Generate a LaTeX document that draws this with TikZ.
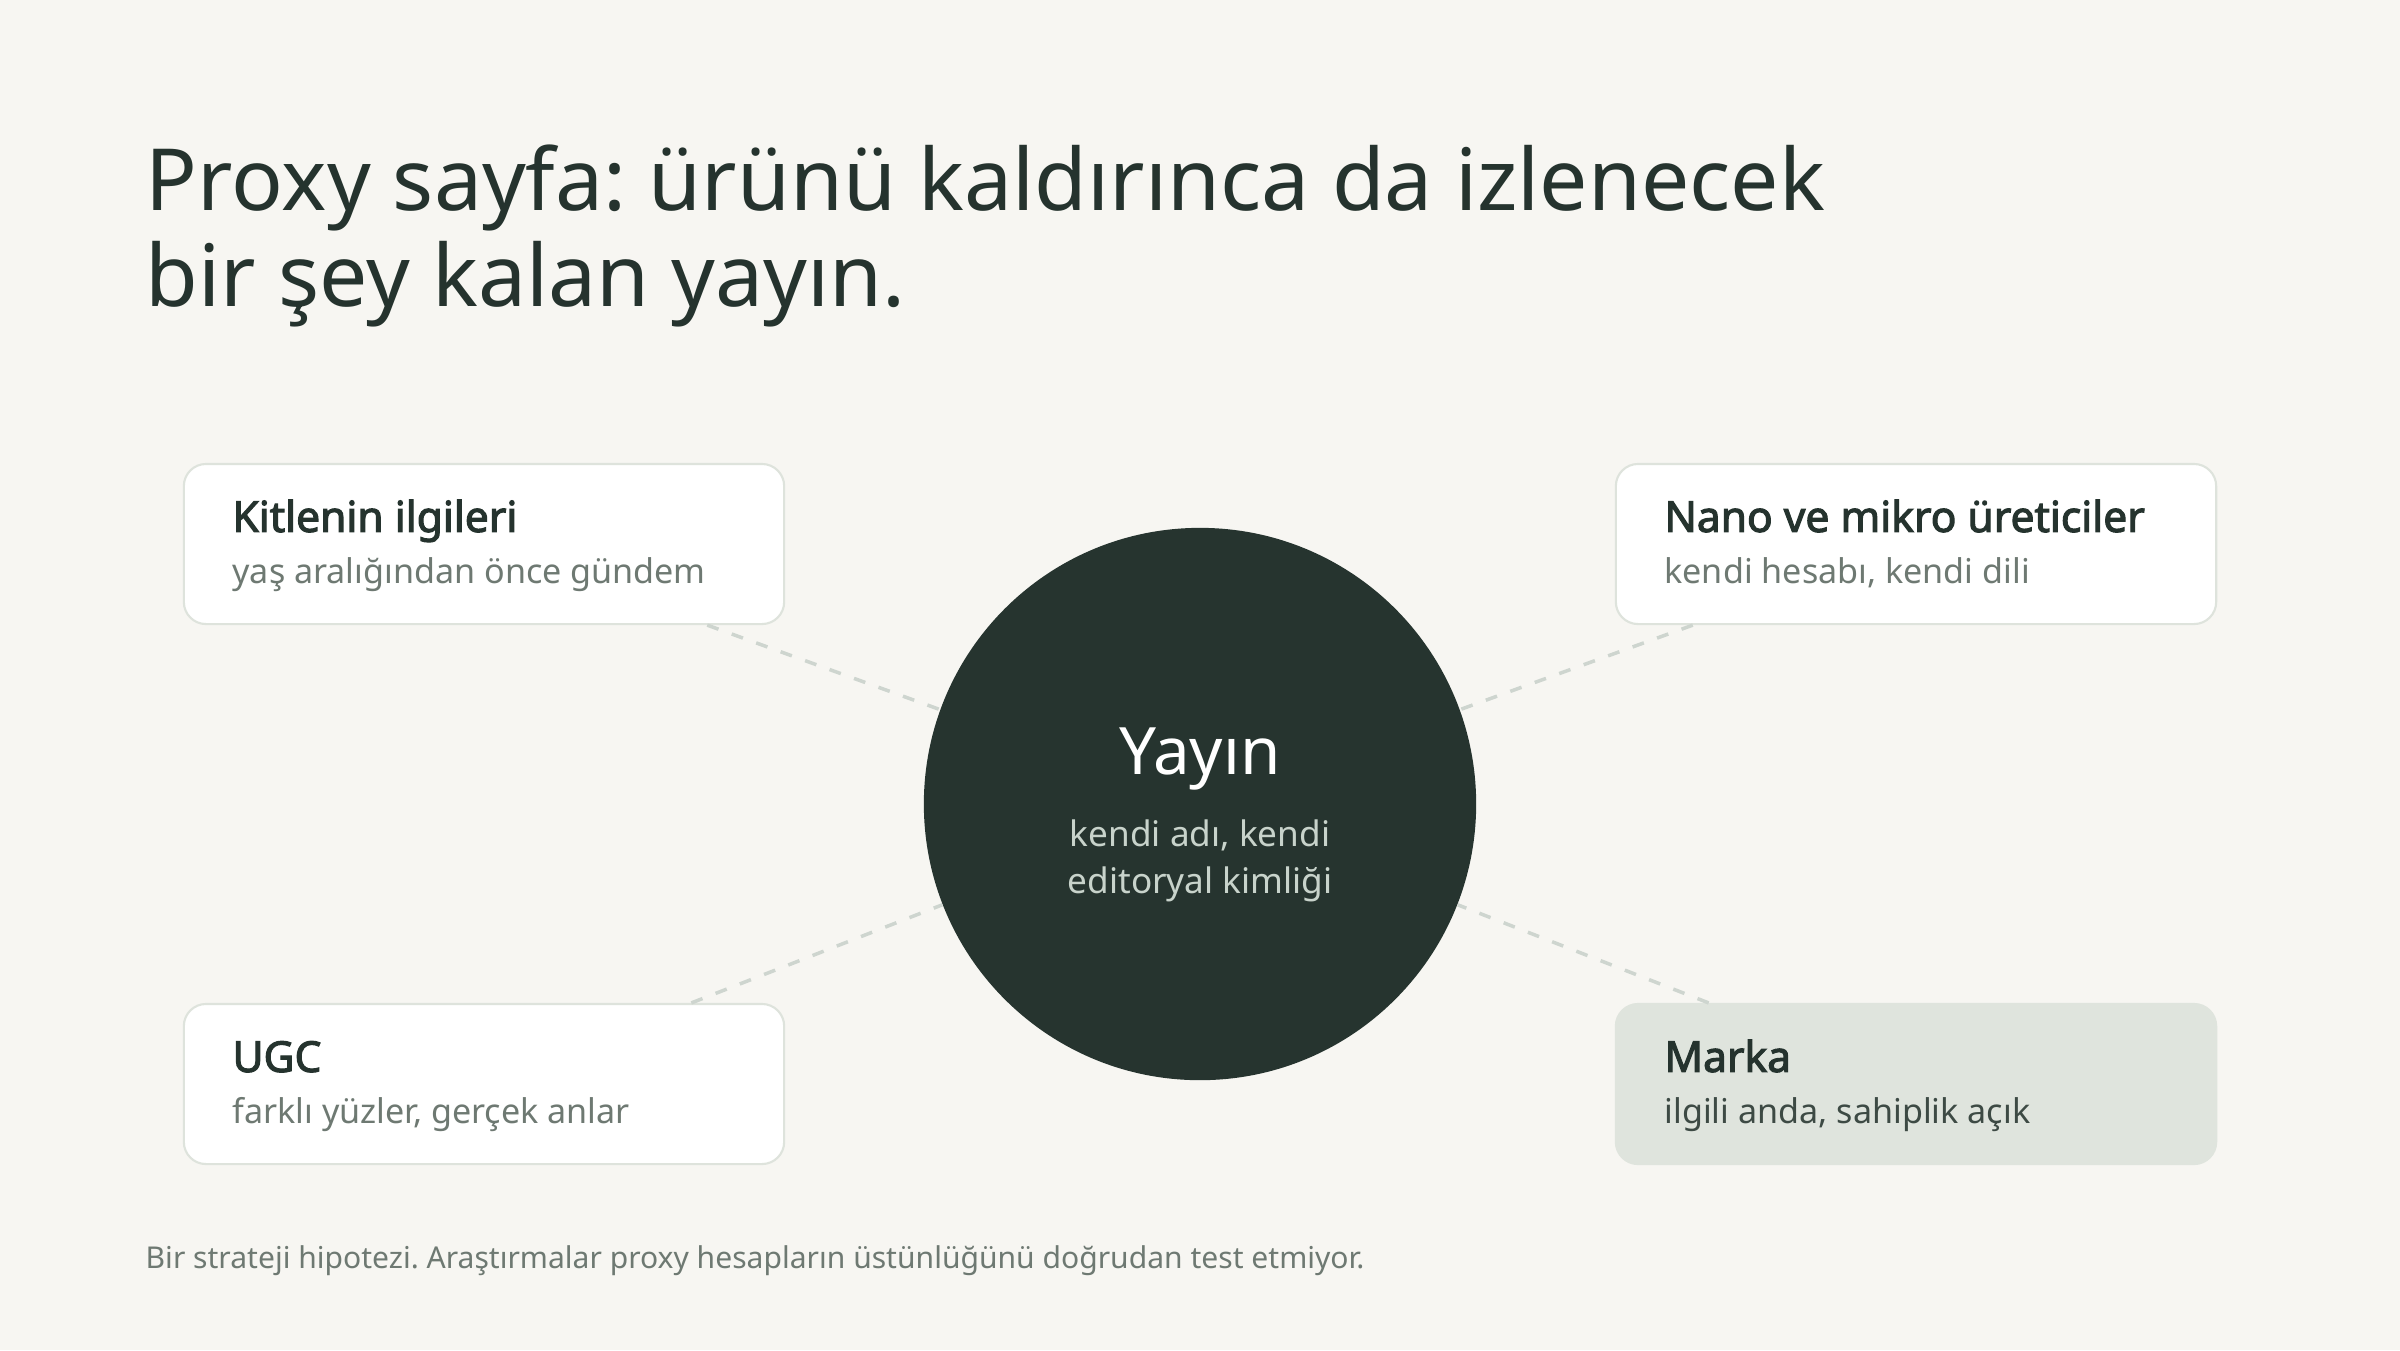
\documentclass[tikz,border=0pt]{standalone}
\usepackage{fontspec}
\setmainfont{Noto Sans}[AutoFakeBold=2.6]
\usepackage{tikz}
\usetikzlibrary{positioning,calc}
\frenchspacing

\definecolor{bgc}{HTML}{F7F6F2}
\definecolor{ink}{HTML}{25332E}
\definecolor{hubfill}{HTML}{26342F}
\definecolor{mute}{HTML}{6E7972}
\definecolor{cardline}{HTML}{DEE3DC}
\definecolor{markafill}{HTML}{DFE4DD}
\definecolor{markasub}{HTML}{3D4A44}
\definecolor{linkc}{HTML}{CED5CF}
\definecolor{hubsub}{HTML}{C8D3CB}

\tikzset{
  card/.style={draw=cardline, line width=0.6pt, fill=white, rounded corners=6.3pt,
    minimum width=6cm, minimum height=1.6cm, inner sep=0pt},
  cardhead/.style={anchor=base west, inner sep=0pt, text=ink,
    font=\fontsize{12.1}{14}\selectfont\bfseries},
  cardsub/.style={anchor=base west, inner sep=0pt, text=mute,
    font=\fontsize{9.7}{11}\selectfont},
  link/.style={draw=linkc, line width=1pt, dash pattern=on 3.4pt off 4pt},
}

\begin{document}
\begin{tikzpicture}[x=0.01cm, y=-0.01cm]
% Page
\fill[bgc] (0,0) rectangle (2400,1350);
\useasboundingbox (0,0) rectangle (2400,1350);

% Title
\node[anchor=base west, inner sep=0pt, text=ink, font=\fontsize{24.4}{28}\selectfont] (title1) at (145,210) {Proxy sayfa: ürünü kaldırınca da izlenecek};
\node[anchor=base west, inner sep=0pt, text=ink, font=\fontsize{24.4}{28}\selectfont] (title2) at (145,306) {bir şey kalan yayın.};

% Hub
\node[circle, fill=hubfill, minimum size=5.52cm, inner sep=0pt] (yayin) at (1200,804) {};
\node[anchor=base, inner sep=0pt, text=white, font=\fontsize{18.6}{21}\selectfont] (yayinhead) at (1200,774) {Yayın};
\node[anchor=base, inner sep=0pt, text=hubsub, font=\fontsize{10}{12}\selectfont] (yayinsubA) at (1200,846) {kendi adı, kendi};
\node[anchor=base, inner sep=0pt, text=hubsub, font=\fontsize{10}{12}\selectfont] (yayinsubB) at (1200,893) {editoryal kimliği};

% Cards
\node[card] (kitle) at (484,544) {};
\node[card] (nano) at (1916,544) {};
\node[card] (ugc) at (484,1084) {};
\node[card, fill=markafill, draw=markafill] (marka) at (1916,1084) {};

% Card texts
\node[cardhead] (kitlehead) at ($(kitle.north west)+(49,69)$) {Kitlenin ilgileri};
\node[cardsub] (kitlesub) at ($(kitle.north west)+(49,121)$) {yaş aralığından önce gündem};
\node[cardhead] (nanohead) at ($(nano.north west)+(49,69)$) {Nano ve mikro üreticiler};
\node[cardsub] (nanosub) at ($(nano.north west)+(49,121)$) {kendi hesabı, kendi dili};
\node[cardhead] (ugchead) at ($(ugc.north west)+(49,69)$) {UGC};
\node[cardsub] (ugcsub) at ($(ugc.north west)+(49,121)$) {farklı yüzler, gerçek anlar};
\node[cardhead] (markahead) at ($(marka.north west)+(49,69)$) {Marka};
\node[cardsub, text=markasub] (markasub) at ($(marka.north west)+(49,121)$) {ilgili anda, sahiplik açık};

% Links
\draw[link] (kitle) -- (yayin);
\draw[link] (nano) -- (yayin);
\draw[link] (ugc) -- (yayin);
\draw[link] (marka) -- (yayin);

% Footnote
\node[anchor=base west, inner sep=0pt, text=mute, font=\fontsize{8.55}{10}\selectfont] (note) at (145,1268) {Bir strateji hipotezi. Araştırmalar proxy hesapların üstünlüğünü doğrudan test etmiyor.};
\end{tikzpicture}
\end{document}
